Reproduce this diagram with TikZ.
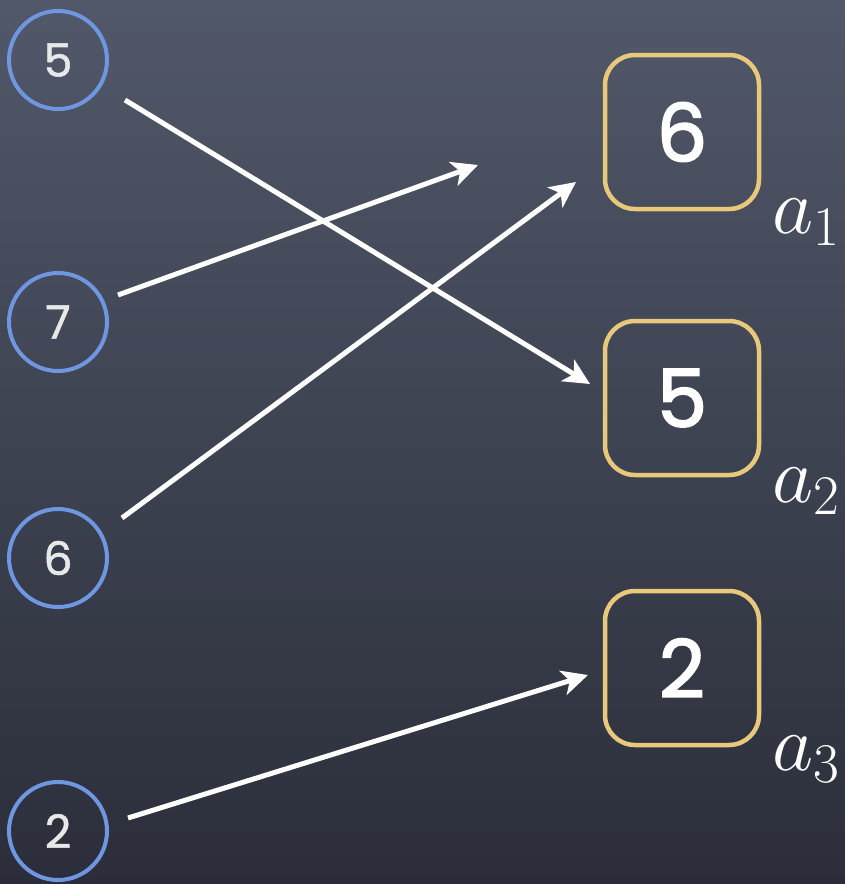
\RequirePackage{fix-cm}
\documentclass[tikz,border=0pt]{standalone}
\usepackage{fontspec}
\newfontfamily\numfont[FakeBold=1.2]{Poppins}
\newfontfamily\numbold[FakeBold=2.2]{Poppins}
\usetikzlibrary{arrows.meta}
\definecolor{bgtop}{HTML}{515869}
\definecolor{bgbot}{HTML}{2B2E3A}
\definecolor{ringblue}{HTML}{6F96E0}
\definecolor{boxgold}{HTML}{E8C87A}
\definecolor{digit}{HTML}{E8E8E8}
\tikzset{
  ring/.style={circle, draw=ringblue, line width=4pt, minimum size=98pt, inner sep=0pt,
    text=digit, font=\numfont\fontsize{46}{46}\selectfont},
  valbox/.style={rectangle, rounded corners=30pt, draw=boxgold, line width=4.5pt,
    minimum size=154pt, inner sep=0pt, text=white, font=\numbold\fontsize{80}{80}\selectfont},
  lbl/.style={anchor=base west, inner sep=0pt, text=white, font=\fontsize{80}{80}\selectfont},
  link/.style={white, line width=5pt, -{Stealth[length=26pt,width=25pt,inset=7pt]}}
}
\begin{document}
\begin{tikzpicture}[x=1pt,y=-1pt]
\useasboundingbox (0,0) rectangle (845,884);
\shade[top color=bgtop, bottom color=bgbot] (0,0) rectangle (845,884);
\node[ring] (c5) at (58,60) {5};
\node[ring] (c7) at (58,322) {7};
\node[ring] (c6) at (58,558) {6};
\node[ring] (c2) at (58,831) {2};
\node[valbox] (b6) at (682,132) {6};
\node[valbox] (b5) at (682,398) {5};
\node[valbox] (b2) at (682,668) {2};
\node[lbl] (l1) at (772,233) {$a_1$};
\node[lbl] (l2) at (772,502) {$a_2$};
\node[lbl] (l3) at (772,770) {$a_3$};
\coordinate (s1) at (125,100);
\coordinate (t1) at (590,384);
\coordinate (s2) at (118,295);
\coordinate (t2) at (478,165);
\coordinate (s3) at (122,518);
\coordinate (t3) at (576,182);
\coordinate (s4) at (128,818);
\coordinate (t4) at (588,675);
\draw[link] (s1) -- (t1);
\draw[link] (s2) -- (t2);
\draw[link] (s3) -- (t3);
\draw[link] (s4) -- (t4);
\end{tikzpicture}
\end{document}
